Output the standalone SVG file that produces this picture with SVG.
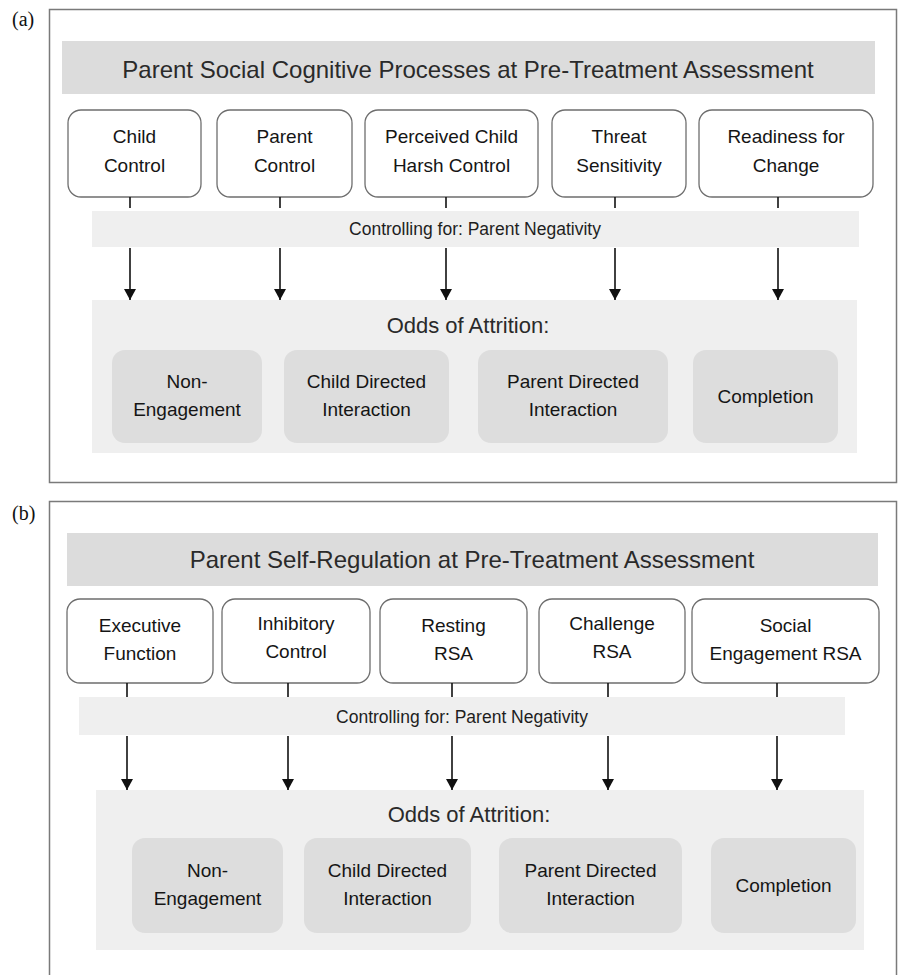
<svg xmlns="http://www.w3.org/2000/svg" width="899" height="975" viewBox="0 0 899 975">
<style>
.frame{fill:#fff;stroke:#7a7a7a;stroke-width:1.5}
.title{fill:#dcdcdc}
.band{fill:#efefef}
.pred{fill:#fff;stroke:#6e6e6e;stroke-width:1.3}
.out{fill:#dddddd}
text{font-family:"Liberation Sans",Arial,sans-serif;fill:#1e1e1e;text-anchor:middle}
.lbl{font-family:"Liberation Serif","Times New Roman",serif;font-size:20px;text-anchor:start;fill:#111}
.tt{font-size:24px;fill:#2a2a2a}
.nt{font-size:19px;fill:#151515}
.ct{font-size:17.5px}
.ot{font-size:22px;fill:#2a2a2a}
.conn line{stroke:#111;stroke-width:1.6}
</style>
<defs>
<marker id="ah" markerUnits="userSpaceOnUse" markerWidth="11" markerHeight="12" refX="11" refY="6" orient="auto" viewBox="0 0 11 12">
<path d="M0,0 L11,6 L0,12 Z" fill="#111"/>
</marker>
</defs>
<rect width="899" height="975" fill="#fff"/>

<!-- Panel (a) -->
<text class="lbl" x="12" y="26">(a)</text>
<rect class="frame" x="49.5" y="9.5" width="847" height="473"/>
<g id="a-title"><rect class="title" x="62" y="41" width="813" height="53"/><text class="tt" x="468" y="78">Parent Social Cognitive Processes at Pre-Treatment Assessment</text></g>
<g id="a-control"><rect class="band" x="92" y="211" width="767" height="36"/><text class="ct" x="475" y="235">Controlling for: Parent Negativity</text></g>
<g id="a-odds"><rect class="band" x="92" y="300" width="765" height="153"/><text class="ot" x="468" y="333">Odds of Attrition:</text></g>

<g id="a-n1"><rect class="pred" x="68" y="110" width="133" height="87" rx="13"/><text class="nt" x="134.5" y="143">Child</text><text class="nt" x="134.5" y="172">Control</text></g>
<g id="a-n2"><rect class="pred" x="217" y="110" width="135" height="87" rx="13"/><text class="nt" x="284.5" y="143">Parent</text><text class="nt" x="284.5" y="172">Control</text></g>
<g id="a-n3"><rect class="pred" x="365" y="110" width="173" height="87" rx="13"/><text class="nt" x="451.5" y="143">Perceived Child</text><text class="nt" x="451.5" y="172">Harsh Control</text></g>
<g id="a-n4"><rect class="pred" x="552" y="110" width="134" height="87" rx="13"/><text class="nt" x="619" y="143">Threat</text><text class="nt" x="619" y="172">Sensitivity</text></g>
<g id="a-n5"><rect class="pred" x="699" y="110" width="174" height="87" rx="13"/><text class="nt" x="786" y="143">Readiness for</text><text class="nt" x="786" y="172">Change</text></g>

<g id="a-o1"><rect class="out" x="112" y="350" width="150" height="93" rx="13"/><text class="nt" x="187" y="388">Non-</text><text class="nt" x="187" y="416">Engagement</text></g>
<g id="a-o2"><rect class="out" x="284" y="350" width="165" height="93" rx="13"/><text class="nt" x="366.5" y="388">Child Directed</text><text class="nt" x="366.5" y="416">Interaction</text></g>
<g id="a-o3"><rect class="out" x="478" y="350" width="190" height="93" rx="13"/><text class="nt" x="573" y="388">Parent Directed</text><text class="nt" x="573" y="416">Interaction</text></g>
<g id="a-o4"><rect class="out" x="693" y="350" width="145" height="93" rx="13"/><text class="nt" x="765.5" y="403">Completion</text></g>

<g id="a-connectors" class="conn">
<line x1="130" y1="197" x2="130" y2="208"/><line x1="280" y1="197" x2="280" y2="208"/><line x1="446" y1="197" x2="446" y2="208"/><line x1="615" y1="197" x2="615" y2="208"/><line x1="778" y1="197" x2="778" y2="208"/>
<line x1="130" y1="248" x2="130" y2="300" marker-end="url(#ah)"/>
<line x1="280" y1="248" x2="280" y2="300" marker-end="url(#ah)"/>
<line x1="446" y1="248" x2="446" y2="300" marker-end="url(#ah)"/>
<line x1="615" y1="248" x2="615" y2="300" marker-end="url(#ah)"/>
<line x1="778" y1="248" x2="778" y2="300" marker-end="url(#ah)"/>
</g>

<!-- Panel (b) -->
<text class="lbl" x="12" y="520">(b)</text>
<rect class="frame" x="49.5" y="501.5" width="847" height="480"/>
<g id="b-title"><rect class="title" x="67" y="533" width="811" height="53"/><text class="tt" x="472" y="568">Parent Self-Regulation at Pre-Treatment Assessment</text></g>
<g id="b-control"><rect class="band" x="79" y="697" width="766" height="38"/><text class="ct" x="462" y="723">Controlling for: Parent Negativity</text></g>
<g id="b-odds"><rect class="band" x="96" y="790" width="768" height="160"/><text class="ot" x="469" y="822">Odds of Attrition:</text></g>

<g id="b-n1"><rect class="pred" x="67" y="599" width="146" height="84" rx="13"/><text class="nt" x="140" y="632">Executive</text><text class="nt" x="140" y="660">Function</text></g>
<g id="b-n2"><rect class="pred" x="222" y="599" width="148" height="84" rx="13"/><text class="nt" x="296" y="630">Inhibitory</text><text class="nt" x="296" y="658">Control</text></g>
<g id="b-n3"><rect class="pred" x="380" y="599" width="147" height="84" rx="13"/><text class="nt" x="453.5" y="632">Resting</text><text class="nt" x="453.5" y="660">RSA</text></g>
<g id="b-n4"><rect class="pred" x="539" y="599" width="146" height="84" rx="13"/><text class="nt" x="612" y="630">Challenge</text><text class="nt" x="612" y="658">RSA</text></g>
<g id="b-n5"><rect class="pred" x="692" y="599" width="187" height="84" rx="13"/><text class="nt" x="785.5" y="632">Social</text><text class="nt" x="785.5" y="660">Engagement RSA</text></g>

<g id="b-o1"><rect class="out" x="132" y="838" width="151" height="95" rx="13"/><text class="nt" x="207.5" y="877">Non-</text><text class="nt" x="207.5" y="905">Engagement</text></g>
<g id="b-o2"><rect class="out" x="304" y="838" width="167" height="95" rx="13"/><text class="nt" x="387.5" y="877">Child Directed</text><text class="nt" x="387.5" y="905">Interaction</text></g>
<g id="b-o3"><rect class="out" x="499" y="838" width="183" height="95" rx="13"/><text class="nt" x="590.5" y="877">Parent Directed</text><text class="nt" x="590.5" y="905">Interaction</text></g>
<g id="b-o4"><rect class="out" x="711" y="838" width="145" height="95" rx="13"/><text class="nt" x="783.5" y="892">Completion</text></g>

<g id="b-connectors" class="conn">
<line x1="127" y1="683" x2="127" y2="697"/><line x1="288" y1="683" x2="288" y2="697"/><line x1="452" y1="683" x2="452" y2="697"/><line x1="608" y1="683" x2="608" y2="697"/><line x1="777" y1="683" x2="777" y2="697"/>
<line x1="127" y1="736" x2="127" y2="790" marker-end="url(#ah)"/>
<line x1="288" y1="736" x2="288" y2="790" marker-end="url(#ah)"/>
<line x1="452" y1="736" x2="452" y2="790" marker-end="url(#ah)"/>
<line x1="608" y1="736" x2="608" y2="790" marker-end="url(#ah)"/>
<line x1="777" y1="736" x2="777" y2="790" marker-end="url(#ah)"/>
</g>
</svg>
